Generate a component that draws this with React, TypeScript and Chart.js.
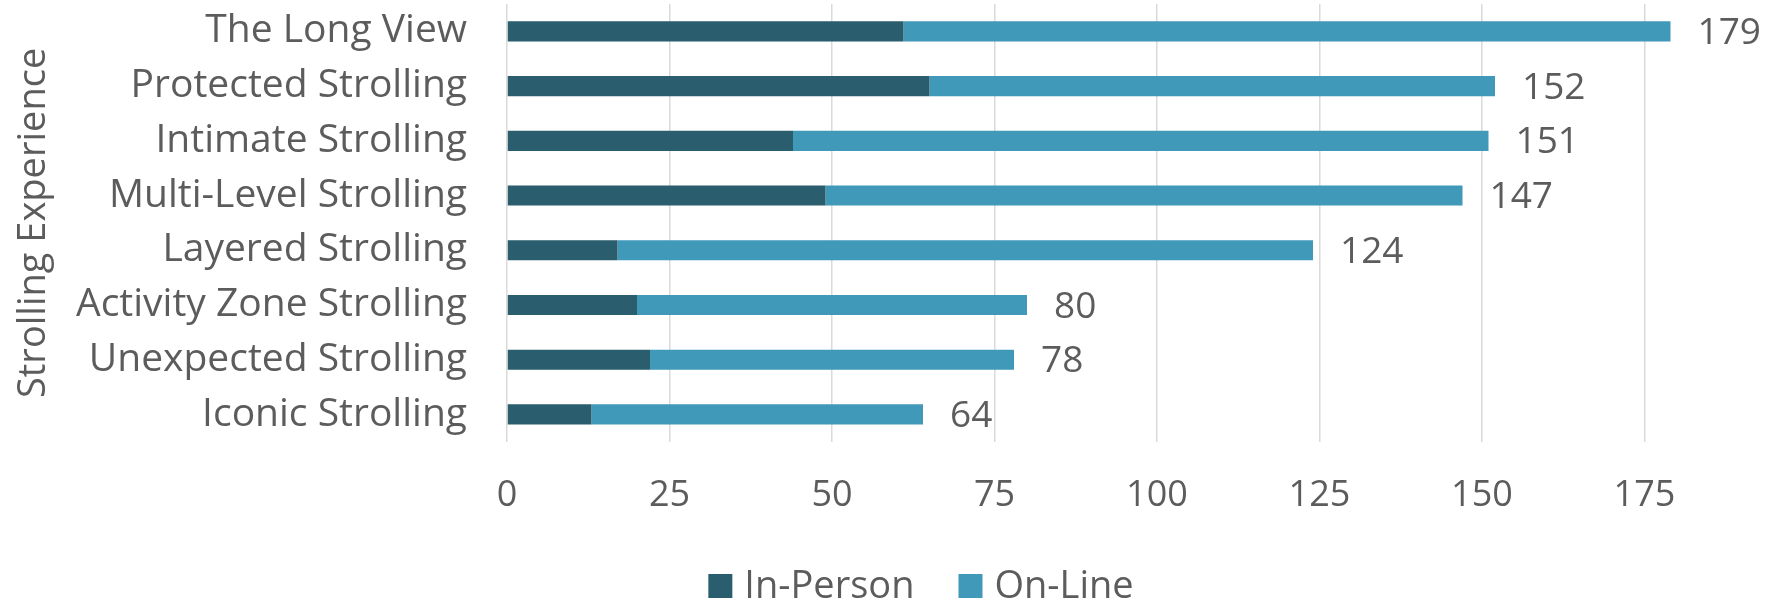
import { useEffect, useRef } from 'react';
import { Chart, registerables } from 'chart.js';

Chart.register(...registerables);

const categories = [
  'The Long View',
  'Protected Strolling',
  'Intimate Strolling',
  'Multi-Level Strolling',
  'Layered Strolling',
  'Activity Zone Strolling',
  'Unexpected Strolling',
  'Iconic Strolling',
];
const inPerson = [61, 65, 44, 49, 17, 20, 22, 13];
const onLine = [118, 87, 107, 98, 107, 60, 56, 51];
const seriesNames = ['In-Person', 'On-Line'];
const xTicks = [0, 25, 50, 75, 100, 125, 150, 175];
const axisTitle = 'Strolling Experience';

const FONT = '"Open Sans", "DejaVu Sans", sans-serif';
const TEXT = '#5c5c5c';
const DARK = '#2a5d6d';
const LIGHT = '#4199ba';

const totalsLabelPlugin = {
  id: 'totalsLabel',
  afterDatasetsDraw(chart: any) {
    const ctx = chart.ctx;
    const last = chart.getDatasetMeta(chart.data.datasets.length - 1);
    ctx.save();
    ctx.font = `37px ${FONT}`;
    ctx.fillStyle = TEXT;
    ctx.textAlign = 'left';
    ctx.textBaseline = 'middle';
    last.data.forEach((el: any, i: number) => {
      const total = chart.data.datasets.reduce((s: number, ds: any) => s + (ds.data[i] as number), 0);
      ctx.fillText(String(total), el.x + 27, el.y + 2);
    });
    ctx.restore();
  },
};

const legendPlugin = {
  id: 'bottomLegend',
  afterDraw(chart: any) {
    const ctx = chart.ctx;
    ctx.save();
    ctx.font = `38px ${FONT}`;
    const box = 24;
    const gap = 12;
    const itemGap = 44;
    const items = chart.data.datasets.map((ds: any) => ({
      label: ds.label as string,
      color: ds.backgroundColor as string,
      w: ctx.measureText(ds.label).width,
    }));
    const total =
      items.reduce((s: number, it: any) => s + box + gap + it.w, 0) + itemGap * (items.length - 1);
    let x = 921 - total / 2;
    const cy = 586;
    ctx.textBaseline = 'middle';
    ctx.textAlign = 'left';
    items.forEach((it: any) => {
      ctx.fillStyle = it.color;
      ctx.fillRect(x, cy - box / 2, box, box);
      x += box + gap;
      ctx.fillStyle = TEXT;
      ctx.fillText(it.label, x, cy + 1);
      x += it.w + itemGap;
    });
    ctx.restore();
  },
};

export default function App() {
  const canvasRef = useRef<HTMLCanvasElement | null>(null);

  useEffect(() => {
    document.body.style.margin = '0';
    const canvas = canvasRef.current;
    if (!canvas) return;
    const chart = new Chart(canvas, {
      type: 'bar',
      data: {
        labels: categories,
        datasets: [
          {
            label: seriesNames[0],
            data: inPerson,
            backgroundColor: DARK,
            categoryPercentage: 0.8,
            barPercentage: 0.46,
          },
          {
            label: seriesNames[1],
            data: onLine,
            backgroundColor: LIGHT,
            categoryPercentage: 0.8,
            barPercentage: 0.46,
          },
        ],
      },
      options: {
        indexAxis: 'y',
        responsive: false,
        animation: false,
        devicePixelRatio: 1,
        layout: { padding: { left: 0, right: 91, top: 4, bottom: 57 } },
        plugins: {
          legend: { display: false },
          tooltip: { enabled: false },
        },
        scales: {
          x: {
            stacked: true,
            min: 0,
            max: 180,
            afterBuildTicks: (scale: any) => {
              scale.ticks = xTicks.map((v) => ({ value: v }));
            },
            afterFit: (scale: any) => {
              scale.paddingLeft = 0;
              scale.paddingRight = 0;
            },
            grid: { color: '#dadada', lineWidth: 1.5, drawTicks: false },
            border: { display: false },
            ticks: {
              padding: 32,
              autoSkip: false,
              maxRotation: 0,
              color: TEXT,
              font: { family: FONT, size: 36 },
            },
          },
          y: {
            stacked: true,
            grid: { display: false, drawTicks: false },
            border: { display: false },
            afterFit: (scale: any) => {
              scale.width = 507;
              scale.paddingTop = 0;
              scale.paddingBottom = 0;
            },
            ticks: {
              padding: 40,
              autoSkip: false,
              color: TEXT,
              font: { family: FONT, size: 39 },
            },
            title: {
              display: true,
              text: axisTitle,
              color: TEXT,
              font: { family: FONT, size: 38 },
              padding: { top: 11, bottom: 0 },
            },
          },
        },
      },
      plugins: [totalsLabelPlugin, legendPlugin],
    });
    return () => chart.destroy();
  }, []);

  return (
    <div style={{ width: 1768, height: 606, background: '#ffffff' }}>
      <canvas ref={canvasRef} width={1768} height={606} style={{ display: 'block' }} />
    </div>
  );
}
